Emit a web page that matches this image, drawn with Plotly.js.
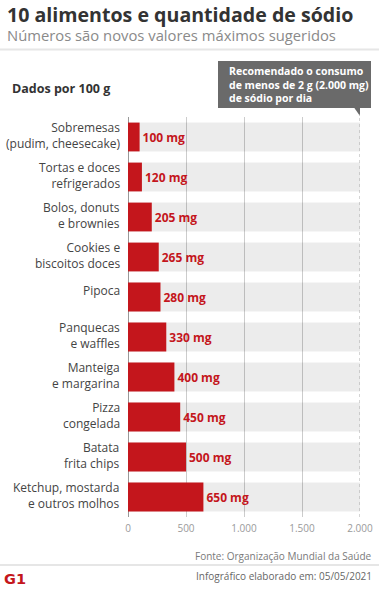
<!DOCTYPE html>
<html><head><meta charset="utf-8">
<script src="https://cdn.plot.ly/plotly-3.0.1.min.js"></script>
<style>html,body{margin:0;padding:0;background:#fff;} #chart{width:382px;height:589px;}</style>
</head><body><div id="chart"></div>
<script>
// ---- data ----
const categories = [
  'Sobremesas\n(pudim, cheesecake)',
  'Tortas e doces\nrefrigerados',
  'Bolos, donuts\ne brownies',
  'Cookies e\nbiscoitos doces',
  'Pipoca',
  'Panquecas\ne waffles',
  'Manteiga\ne margarina',
  'Pizza\ncongelada',
  'Batata\nfrita chips',
  'Ketchup, mostarda\ne outros molhos'
];
const sodiumMg = [100, 120, 205, 265, 280, 330, 400, 450, 500, 650];
const recommendedMg = 2000;
const tickValues = [0, 500, 1000, 1500, 2000];
const tickLabels = ['0', '500', '1.000', '1.500', '2.000'];
const valueLabels = sodiumMg.map(v => v + ' mg');

// ---- layout helpers ----
const W = 382, H = 589, L = 128, R = 22, T = 117, B = 72;
const plotW = W - L - R, plotH = H - T - B;
const px = x => (x - L) / plotW;
const py = y => (H - B - y) / plotH;
const FONT = 'Open Sans';
const RED = '#c4161c';

const bgTrace = {
  type: 'bar', orientation: 'h',
  y: categories, x: categories.map(() => recommendedMg),
  width: 0.72,
  marker: {color: 'rgba(0,0,0,0.075)', line: {width: 0}},
  hoverinfo: 'skip', showlegend: false
};
const redTrace = {
  type: 'bar', orientation: 'h',
  y: categories, x: sodiumMg,
  width: 0.72,
  marker: {color: RED, line: {width: 0}},
  text: valueLabels, textposition: 'outside', constraintext: 'none',
  textfont: {family: FONT, size: 12, color: RED, weight: 'bold'},
  cliponaxis: false, showlegend: false
};

const annotations = [];
categories.forEach((c, i) => {
  const lines = c.split('\n');
  annotations.push({
    xref: 'paper', x: px(121), xanchor: 'right', align: 'right',
    yref: 'y', y: i, yanchor: 'middle', yshift: lines.length > 1 ? 1.5 : 7,
    text: lines.join('<br>'), showarrow: false, borderpad: 0,
    font: {family: FONT, size: 12, color: '#444'}
  });
});
const txt = (x, y, text, size, color, opts = {}) => Object.assign({
  xref: 'paper', yref: 'paper', x: px(x), y: py(y), xanchor: 'left', yanchor: 'middle',
  text, showarrow: false, borderpad: 0, font: Object.assign({family: FONT, size, color}, opts.font || {})
}, opts.a || {});

const titleText = '10 alimentos e quantidade de sódio';
const subtitleText = 'Números são novos valores máximos sugeridos';
annotations.push(txt(6, 0,
  `<span style="font-size:19.6px;font-weight:bold;color:#333">${titleText}</span><br>${subtitleText}`,
  14.8, '#8a8a8a', {a: {yanchor: 'top', align: 'left'}}));
annotations.push(txt(11, 88, 'Dados por 100 g', 12.5, '#333', {font: {weight: 'bold'}}));
annotations.push(txt(228, 84.5, 'Recomendado o consumo<br>de menos de 2 g (2.000 mg)<br>de sódio por dia', 10.5, '#fff', {font: {weight: 'bold'}, a: {align: 'left'}}));
annotations.push(txt(373, 556, 'Fonte: Organização Mundial da Saúde', 10, '#7a7a7a', {a: {xanchor: 'right'}}));
annotations.push(txt(373, 576, 'Infográfico elaborado em: 05/05/2021', 10, '#666', {a: {xanchor: 'right'}}));
annotations.push(txt(3, 579, 'G1', 14.5, RED, {font: {weight: 'bold', family: 'DejaVu Sans'}}));

const tipDx = 6 * recommendedMg / plotW;
const shapes = [
  {type: 'line', xref: 'paper', yref: 'paper', x0: px(0), x1: px(379), y0: py(49.5), y1: py(49.5), line: {color: '#e6e6e6', width: 2}},
  {type: 'line', xref: 'paper', yref: 'paper', x0: px(0), x1: px(379), y0: py(565), y1: py(565), line: {color: '#e6e6e6', width: 2}},
  {type: 'rect', xref: 'paper', yref: 'paper', x0: px(218), x1: px(371), y0: py(108), y1: py(61), fillcolor: '#6a6a6a', line: {width: 0}},
  {type: 'path', xref: 'x', yref: 'paper',
   path: `M ${recommendedMg - tipDx},${py(107.5)} L ${recommendedMg + tipDx},${py(107.5)} L ${recommendedMg},${py(116)} Z`,
   fillcolor: '#6a6a6a', line: {width: 0}},
  {type: 'line', xref: 'x', yref: 'paper', x0: recommendedMg, x1: recommendedMg, y0: 0, y1: py(114),
   line: {color: '#aaa', width: 1, dash: 'dot'}}
];

const layout = {
  width: W, height: H,
  margin: {l: L, r: R, t: T, b: B, pad: 0},
  paper_bgcolor: '#fff', plot_bgcolor: '#fff',
  barmode: 'overlay',
  showlegend: false,
  xaxis: {
    range: [0, recommendedMg], tickvals: tickValues, ticktext: tickLabels,
    showgrid: true, gridcolor: '#cccccc', gridwidth: 1,
    zeroline: true, zerolinecolor: '#999', zerolinewidth: 1,
    showline: false, ticks: '', ticklabelstandoff: 4,
    tickfont: {family: FONT, size: 10, color: '#9a9a9a'},
    fixedrange: true
  },
  yaxis: {
    type: 'category', range: [9.5, -0.5],
    showticklabels: false, showgrid: false, zeroline: false, showline: false, ticks: '',
    fixedrange: true
  },
  annotations, shapes
};

Plotly.newPlot('chart', [bgTrace, redTrace], layout, {displayModeBar: false, staticPlot: true});
</script>
</body></html>
